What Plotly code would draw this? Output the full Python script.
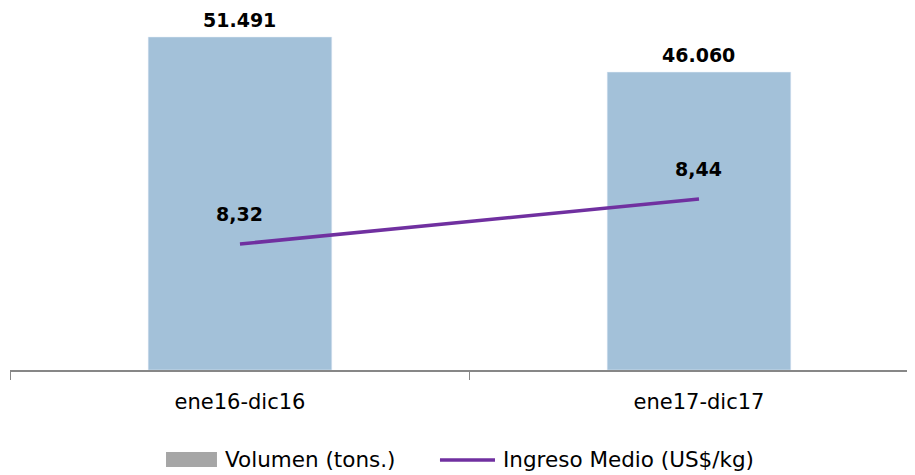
import plotly.graph_objects as go

categories = ["ene16-dic16", "ene17-dic17"]
volumen = [51491, 46060]
ingreso = [8.32, 8.44]
series_names = ["Volumen (tons.)", "Ingreso Medio (US$/kg)"]

vol_labels = [f"{v:,}".replace(",", ".") for v in volumen]
ing_labels = [f"{v:.2f}".replace(".", ",") for v in ingreso]

FONT = "DejaVu Sans, sans-serif"
BAR_COLOR = "#A3C1D9"
LINE_COLOR = "#7030A0"

fig = go.Figure()

fig.add_trace(go.Bar(x=categories, y=volumen, name=series_names[0],
                     marker_color=BAR_COLOR, width=0.40, showlegend=False))

fig.add_trace(go.Scatter(x=categories, y=ingreso, name=series_names[1],
                         mode="lines", line=dict(color=LINE_COLOR, width=3.5),
                         yaxis="y2", showlegend=False))

for c, v, t in zip(categories, volumen, vol_labels):
    fig.add_annotation(x=c, y=v, text=f"<b>{t}</b>", showarrow=False,
                       yanchor="bottom", yshift=4, xref="x", yref="y",
                       font=dict(size=19, color="#000000", family=FONT))

for c, v, t in zip(categories, ingreso, ing_labels):
    fig.add_annotation(x=c, y=v, text=f"<b>{t}</b>", showarrow=False,
                       yanchor="bottom", yshift=17, xref="x", yref="y2",
                       font=dict(size=19, color="#000000", family=FONT))

# legend drawn as in the reference (wide gray swatch, long line sample)
LEG_Y = -0.2486
fig.add_shape(type="rect", xref="paper", yref="paper",
              x0=0.1724, x1=0.2287, y0=-0.268, y1=-0.2265,
              fillcolor="#A6A6A6", line=dict(width=0))
fig.add_annotation(xref="paper", yref="paper", x=0.2354, y=LEG_Y,
                   text=series_names[0], showarrow=False,
                   xanchor="left", yanchor="middle",
                   font=dict(size=21.5, family=FONT, color="#000000"))
fig.add_shape(type="line", xref="paper", yref="paper",
              x0=0.4751, x1=0.5359, y0=LEG_Y, y1=LEG_Y,
              line=dict(color=LINE_COLOR, width=3.5))
fig.add_annotation(xref="paper", yref="paper", x=0.5425, y=LEG_Y,
                   text=series_names[1], showarrow=False,
                   xanchor="left", yanchor="middle",
                   font=dict(size=21.5, family=FONT, color="#000000"))

fig.update_layout(
    width=907, height=467,
    margin=dict(l=2, r=0, t=0, b=105, autoexpand=False),
    paper_bgcolor="white", plot_bgcolor="white",
    font=dict(family=FONT, size=21, color="#000000"),
    barmode="overlay",
    showlegend=False,
    xaxis=dict(type="category", range=[-0.501, 1.4706], tickson="boundaries",
               showline=True, linecolor="#878787", linewidth=2,
               ticks="outside", ticklen=8, tickcolor="#878787", tickwidth=1,
               showgrid=False, zeroline=False, ticklabelstandoff=12,
               tickfont=dict(size=21, family=FONT, color="#000000")),
    yaxis=dict(range=[0, 55975], visible=False, showgrid=False, zeroline=False),
    yaxis2=dict(range=[7.984, 8.9493], overlaying="y", side="right",
                visible=False, showgrid=False, zeroline=False),
)

fig.write_html("out.html")
